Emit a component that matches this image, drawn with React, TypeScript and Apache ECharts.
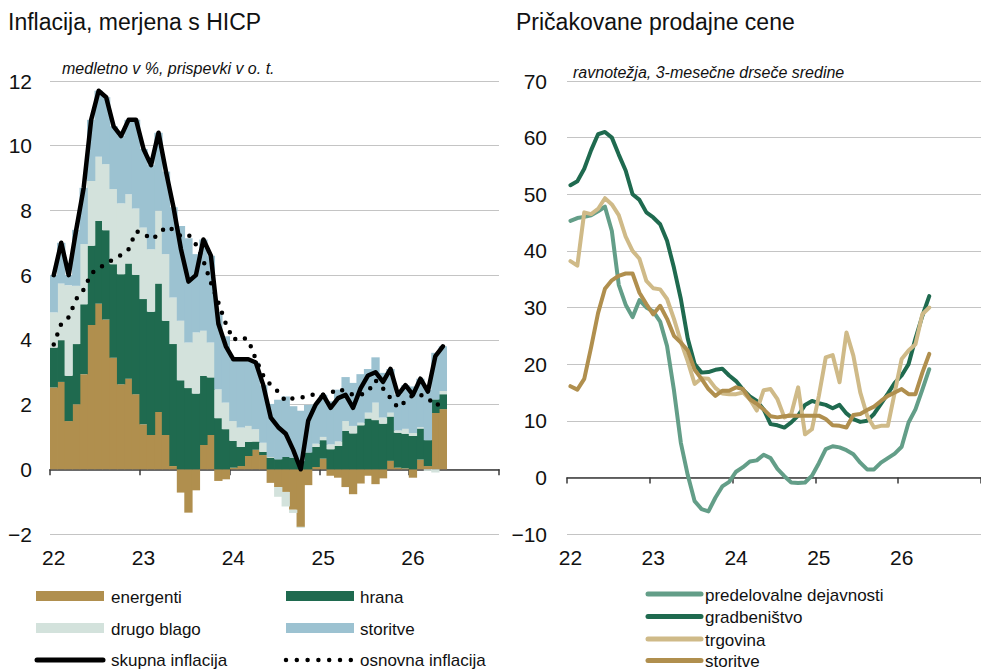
import React, { useEffect, useRef } from "react";
import * as echarts from "echarts";

// ---------- DATA ----------
const yearLabels = ["22", "23", "24", "25", "26"];
const leftTicks = [-2, 0, 2, 4, 6, 8, 10, 12];
const rightTicks = [-10, 0, 10, 20, 30, 40, 50, 60, 70];

// Left chart: contributions to HICP inflation (pp), Jan 2022 – May 2026
const energenti = [
  2.53, 2.7, 1.49, 2.01, 2.94, 4.46, 5.12, 4.63, 3.45, 2.63, 2.8, 2.32,
  1.39, 1.06, 1.77, 1.06, 0.1, -0.72, -1.34, -0.65, 0.75, 1.06, -0.36, -0.31,
  0.05, 0.1, 0.41, 0.6, 0.44, -0.42, -0.55, -0.7, -1.25, -1.78, -0.49, 0.07,
  0.33, -0.2, -0.26, -0.55, -0.77, -0.44, -0.2, -0.46, -0.28, 0.26, 0.05, 0.03,
  -0.26, 0.3, 0.1, 1.74, 1.86,
];
const hrana = [
  1.23, 1.29, 1.4, 1.86, 2.16, 2.45, 2.56, 2.76, 2.89, 3.4, 3.56, 3.69,
  3.87, 3.81, 3.97, 3.53, 3.77, 2.75, 2.51, 2.34, 2.14, 1.78, 1.58, 1.24,
  0.83, 0.59, 0.44, 0.26, 0.1, 0.36, 0.31, 0.38, 0.36, 0.25, 0.52, 0.62,
  0.57, 0.62, 0.72, 1.19, 1.11, 1.36, 1.57, 1.52, 1.41, 1.37, 1.08, 1.07,
  1.03, 0.96, 0.8, 0.42, 0.46,
];
const drugoBlago = [
  1.09, 1.75, 2.8, 1.8, 1.86, 2.0, 1.98, 2.04, 2.32, 2.19, 2.14, 2.05,
  2.21, 1.93, 2.25, 2.06, 1.44, 1.84, 1.41, 1.89, 1.39, 1.08, 0.89, 0.82,
  0.61, 0.6, 0.49, 0.38, 0.28, 0.02, -0.3, -0.45, -0.1, -0.03, 0.0, 0.1,
  0.1, 0.15, 0.14, 0.3, 0.23, 0.08, 0.18, 0.54, 0.19, 0.12, 0.07, 0.15,
  0.09, 0.04, -0.05, -0.1, 0.1,
];
const storitve = [
  1.15, 1.26, 0.31, 1.73, 1.74, 1.89, 2.04, 2.07, 1.94, 2.08, 2.3, 2.74,
  2.43, 2.6, 2.41, 2.55, 2.79, 2.93, 3.22, 2.42, 2.82, 2.68, 2.39, 2.05,
  1.91, 2.11, 2.06, 2.06, 1.78, 1.64, 1.84, 1.87, 1.59, 1.56, 1.47, 1.21,
  1.3, 1.33, 1.6, 1.36, 1.33, 1.5, 1.35, 1.4, 1.38, 1.35, 1.1, 1.35,
  1.44, 1.5, 1.55, 1.44, 1.38,
];
const skupnaInflacija = [
  6.0, 7.0, 6.0, 7.4, 8.7, 10.8, 11.7, 11.5, 10.6, 10.3, 10.8, 10.8,
  9.9, 9.4, 10.4, 9.2, 8.1, 6.8, 5.8, 6.0, 7.1, 6.6, 4.5, 3.8,
  3.4, 3.4, 3.4, 3.3, 2.6, 1.6, 1.3, 1.1, 0.6, 0.0, 1.5, 2.0,
  2.3, 1.9, 2.2, 2.3, 1.9, 2.5, 2.9, 3.0, 2.7, 3.1, 2.3, 2.6,
  2.3, 2.8, 2.4, 3.5, 3.8,
];
const osnovnaInflacija = [
  3.86, 4.5, 4.7, 5.26, 5.55, 6.05, 6.22, 6.35, 6.5, 6.62, 6.8, 7.35,
  7.3, 7.1, 7.25, 7.5, 7.4, 7.2, 7.25, 6.95, 6.44, 5.77, 5.15, 4.5,
  4.0, 4.1, 4.0, 3.4, 2.9, 2.6, 2.4, 2.1, 2.2, 2.2, 2.3, 2.3,
  2.3, 2.35, 2.5, 2.4, 2.3, 2.3, 2.4, 2.75, 2.5, 2.2, 1.9, 2.1,
  2.3, 2.3, 2.2, 1.95, 2.1,
];

// Right chart: expected selling prices (balance, 3-month moving average)
const predelovalne = [
  45.3, 45.8, 46.0, 46.3, 47.0, 47.8, 43.5, 34.0, 30.5, 28.3, 31.3, 30.0,
  29.3, 27.5, 23.2, 15.4, 6.1, 0.4, -4.2, -5.6, -6.0, -3.6, -1.6, -0.8,
  1.0, 1.8, 2.8, 3.0, 4.0, 3.4, 1.5, 0.2, -0.9, -1.0, -0.9, 0.3,
  2.5, 5.0, 5.5, 5.3, 4.8, 4.1, 2.6, 1.4, 1.4, 2.6, 3.4, 4.2,
  5.4, 9.7, 12.0, 15.5, 19.1,
];
const gradbenistvo = [
  51.6, 52.3, 54.5, 57.8, 60.6, 61.0, 60.0, 57.0, 54.2, 50.0, 49.0, 46.8,
  45.9, 44.7, 41.8, 37.0, 31.5, 24.5, 20.0, 18.5, 18.6, 19.0, 19.2, 18.0,
  17.0, 15.5, 14.3, 13.5, 12.0, 9.4, 9.2, 8.8, 9.7, 10.9, 12.8, 13.5,
  13.1, 12.8, 12.2, 12.8, 11.3, 10.3, 9.8, 10.0, 11.2, 13.0, 14.8, 16.7,
  18.0, 20.0, 24.5, 28.5, 32.0,
];
const trgovina = [
  38.2, 37.4, 46.8, 46.5, 47.4, 49.3, 48.2, 46.3, 42.5, 40.0, 38.6, 34.7,
  33.4, 33.2, 31.5, 28.0, 24.0, 20.5, 16.5, 17.5, 17.4, 15.8, 14.8, 14.7,
  14.7, 15.0, 13.8, 11.8, 15.4, 15.6, 13.8, 10.6, 11.2, 15.9, 7.6, 8.5,
  14.4, 21.2, 21.6, 16.8, 25.6, 21.5, 15.0, 10.9, 8.8, 9.1, 9.1, 15.0,
  20.9, 22.4, 23.5, 28.8, 30.0,
];
const storitveCene = [
  16.1, 15.5, 17.4, 23.0, 29.0, 33.3, 34.8, 35.6, 36.0, 36.0, 32.6, 30.6,
  28.8, 30.3, 28.0, 25.0, 23.8, 22.4, 19.0, 17.4, 15.6, 14.4, 15.3, 15.3,
  15.9, 15.6, 13.8, 13.0, 12.0, 10.8, 10.6, 10.8, 10.9, 10.9, 10.9, 10.9,
  10.9, 10.3, 9.2, 9.1, 8.8, 11.0, 11.2, 11.9, 12.5, 13.5, 14.4, 15.0,
  15.6, 14.7, 14.7, 18.5, 21.8,
];

// ---------- STYLE ----------
const C_ENERGY = "#B08F4E";
const C_FOOD = "#1F6A4F";
const C_GOODS = "#D3E2DC";
const C_SERV = "#9CC2D1";
const C_MANUF = "#639E88";
const C_CONSTR = "#1F6A4F";
const C_TRADE = "#CFBA88";
const C_SERV2 = "#B08F4E";
const GRID_C = "#C4C4C4";
const AXIS_C = "#3A3A3A";
const NARROW = '"Liberation Sans Narrow", "Arial Narrow", "Liberation Sans", Arial, sans-serif';
const SANS = '"Liberation Sans", Arial, sans-serif';

const categories: string[] = [];
yearLabels.forEach((y) => {
  for (let m = 1; m <= 12; m++) categories.push(`${m}/${y}`);
});

const minus = (v: number) => (v < 0 ? "\u2212" + Math.abs(v) : String(v));

function buildOption() {
  const xZeroAxis = (grid: number) => ({
    type: "category",
    gridIndex: grid,
    data: categories,
    boundaryGap: true,
    position: "bottom",
    axisLine: { show: true, onZero: true, lineStyle: { color: AXIS_C, width: 1.5 } },
    axisTick: { show: true, interval: 11, length: 6, lineStyle: { color: AXIS_C, width: 1.5 } },
    axisLabel: { show: false },
    splitLine: { show: false },
  });
  const xLabelAxis = (grid: number) => ({
    type: "category",
    gridIndex: grid,
    data: categories,
    boundaryGap: true,
    position: "bottom",
    axisLine: { show: false, onZero: false },
    axisTick: { show: false },
    splitLine: { show: false },
    axisLabel: {
      interval: 11,
      margin: 13,
      fontSize: 21,
      fontFamily: NARROW,
      color: "#111",
      formatter: (v: string) => v.split("/")[1],
    },
  });
  const yAx = (grid: number, ticks: number[], margin: number) => ({
    type: "value",
    gridIndex: grid,
    min: ticks[0],
    max: ticks[ticks.length - 1],
    interval: ticks[1] - ticks[0],
    axisLine: { show: false },
    axisTick: { show: false },
    splitLine: { show: true, lineStyle: { color: GRID_C, width: 1.2 } },
    axisLabel: {
      margin,
      fontSize: 21,
      fontFamily: NARROW,
      color: "#111",
      formatter: (v: number) => minus(v),
    },
  });

  const bar = (name: string, data: number[], color: string) => ({
    name,
    type: "bar",
    stack: "hicp",
    xAxisIndex: 0,
    yAxisIndex: 0,
    data,
    barWidth: 8.3,
    barGap: "0%",
    itemStyle: { color, borderWidth: 0 },
    emphasis: { disabled: true },
  });
  const rline = (name: string, data: number[], color: string) => ({
    name,
    type: "line",
    xAxisIndex: 2,
    yAxisIndex: 1,
    data,
    symbol: "none",
    lineStyle: { color, width: 4, cap: "round", join: "round" },
    itemStyle: { color },
  });

  const legendText = (x: number, y: number, text: string) => ({
    type: "text",
    x,
    y,
    style: { text, fill: "#111", font: `17px ${SANS}`, verticalAlign: "middle", align: "left" },
  });
  const legendRect = (x: number, y: number, fill: string) => ({
    type: "rect",
    shape: { x, y: y - 5, width: 68, height: 10 },
    style: { fill },
  });
  const legendLine = (x1: number, x2: number, y: number, stroke: string, dash?: number[]) => ({
    type: "line",
    shape: { x1, y1: y, x2, y2: y },
    style: { stroke, lineWidth: dash ? 4.5 : 5, lineCap: "round", lineDash: dash || null },
  });

  return {
    animation: false,
    backgroundColor: "#fff",
    grid: [
      { left: 50, top: 81, width: 449, height: 453, containLabel: false },
      { left: 567, top: 81, width: 423.6, height: 453, containLabel: false },
    ],
    xAxis: [xZeroAxis(0), xLabelAxis(0), xZeroAxis(1), xLabelAxis(1)],
    yAxis: [yAx(0, leftTicks, 18), yAx(1, rightTicks, 20)],
    series: [
      bar("energenti", energenti, C_ENERGY),
      bar("hrana", hrana, C_FOOD),
      bar("drugo blago", drugoBlago, C_GOODS),
      bar("storitve", storitve, C_SERV),
      {
        name: "skupna inflacija",
        type: "line",
        xAxisIndex: 0,
        yAxisIndex: 0,
        data: skupnaInflacija,
        symbol: "none",
        z: 5,
        lineStyle: { color: "#000", width: 4.5, cap: "round", join: "round" },
        itemStyle: { color: "#000" },
      },
      {
        name: "osnovna inflacija",
        type: "line",
        xAxisIndex: 0,
        yAxisIndex: 0,
        data: osnovnaInflacija,
        symbol: "none",
        z: 6,
        lineStyle: { color: "#000", width: 4.5, type: [0, 10.5], cap: "round", join: "round" },
        itemStyle: { color: "#000" },
      },
      rline("predelovalne dejavnosti", predelovalne, C_MANUF),
      rline("gradbeništvo", gradbenistvo, C_CONSTR),
      rline("trgovina", trgovina, C_TRADE),
      rline("storitve ", storitveCene, C_SERV2),
    ],
    graphic: [
      { type: "text", x: 8, y: 22, style: { text: "Inflacija, merjena s HICP", fill: "#111", font: `23px ${SANS}`, verticalAlign: "middle" } },
      { type: "text", x: 516, y: 22, style: { text: "Pričakovane prodajne cene", fill: "#111", font: `23px ${SANS}`, verticalAlign: "middle" } },
      { type: "text", x: 62, y: 68, style: { text: "medletno v %, prispevki v o. t.", fill: "#111", font: `italic 16px ${SANS}`, verticalAlign: "middle" } },
      { type: "text", x: 573, y: 72, style: { text: "ravnotežja, 3-mesečne drseče sredine", fill: "#111", font: `italic 16px ${SANS}`, verticalAlign: "middle" } },
      // left legend
      legendRect(36, 596, C_ENERGY),
      legendText(111, 597, "energenti"),
      legendRect(286, 596, C_FOOD),
      legendText(360, 597, "hrana"),
      legendRect(36, 628, C_GOODS),
      legendText(111, 629, "drugo blago"),
      legendRect(286, 628, C_SERV),
      legendText(360, 629, "storitve"),
      legendLine(37, 103, 660, "#000"),
      legendText(111, 660, "skupna inflacija"),
      legendLine(286, 351, 660, "#000", [0, 10.8]),
      legendText(360, 660, "osnovna inflacija"),
      // right legend
      legendLine(648, 701, 594, C_MANUF),
      legendText(705, 595, "predelovalne dejavnosti"),
      legendLine(648, 701, 616.5, C_CONSTR),
      legendText(705, 617.5, "gradbeništvo"),
      legendLine(648, 701, 639, C_TRADE),
      legendText(705, 640, "trgovina"),
      legendLine(648, 701, 660.5, C_SERV2),
      legendText(705, 661.5, "storitve"),
    ],
  };
}

export default function App() {
  const ref = useRef<HTMLDivElement>(null);
  useEffect(() => {
    if (!ref.current) return;
    const chart = echarts.init(ref.current, undefined, { renderer: "svg" });
    chart.setOption(buildOption() as any);
    return () => chart.dispose();
  }, []);
  return (
    <div
      ref={ref}
      style={{ position: "fixed", left: 0, top: 0, width: 981, height: 671, background: "#fff" }}
    />
  );
}
